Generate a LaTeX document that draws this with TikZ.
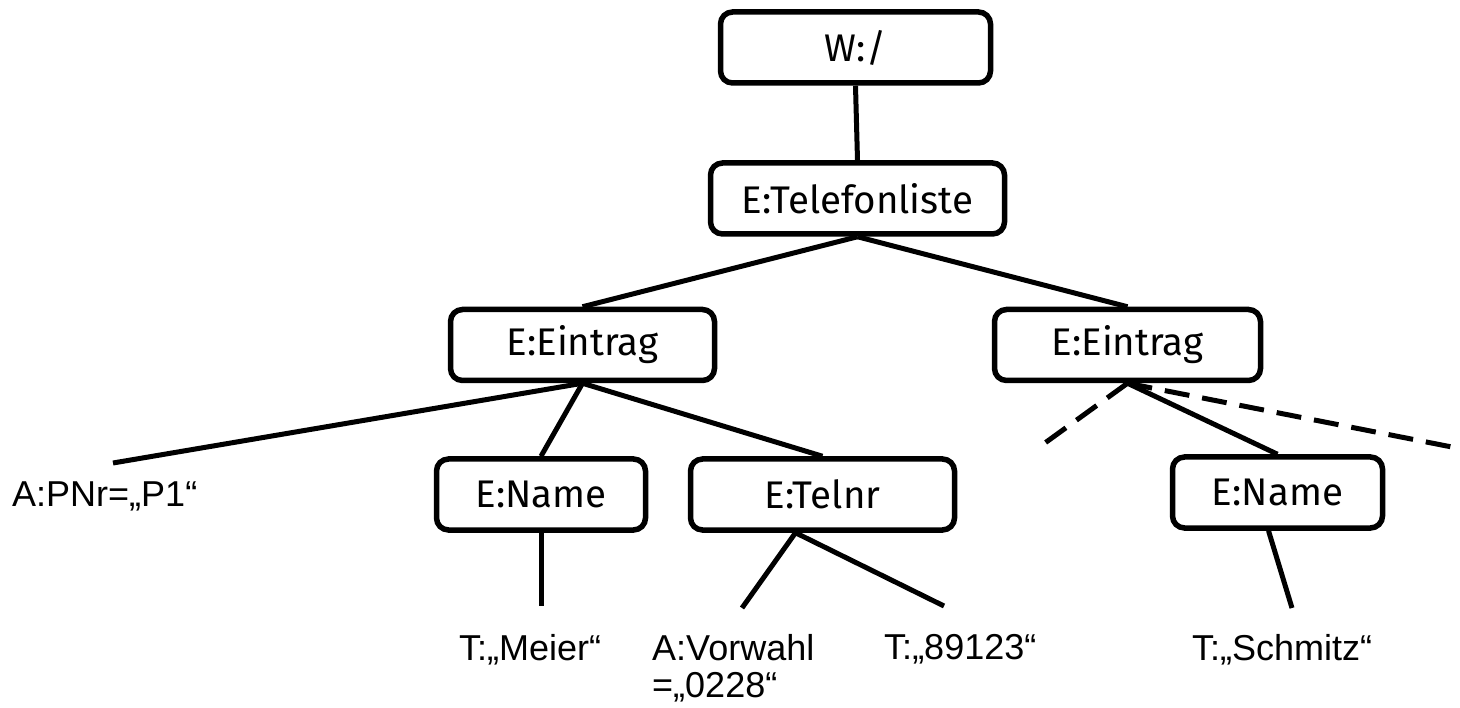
\documentclass[tikz,border=0pt]{standalone}
\usepackage{fontspec}
\setmainfont{Liberation Sans}
\newfontfamily\boxfont{Fira Sans}
\begin{document}
\begin{tikzpicture}[x=1pt,y=-1pt,
  box/.style={draw, line width=5.5pt, rounded corners=12pt, minimum height=71pt, inner sep=0pt,
    font=\boxfont\fontsize{38.5}{42}\selectfont},
  leaf/.style={inner sep=0pt, font=\fontsize{36}{37}\selectfont},
  con/.style={line width=5pt},
  dashcon/.style={line width=5pt, dash pattern=on 25pt off 13pt}]
\useasboundingbox (0,0) rectangle (1460,708);
\fill[white] (0,0) rectangle (1460,708);

% boxes
\node[box, minimum width=270pt] (w) at (855.5,47.5) {W:/};
\node[box, minimum width=294pt] (tel) at (857.5,198.5) {E:Telefonliste};
\node[box, minimum width=264pt] (einl) at (582.5,345) {E:Eintrag};
\node[box, minimum width=266pt] (einr) at (1127.5,345) {E:Eintrag};
\node[box, minimum width=209pt] (namel) at (541,494.5) {E:Name};
\node[box, minimum width=264pt] (telnr) at (822.5,494.5) {E:Telnr};
\node[box, minimum width=210pt] (namer) at (1277.5,492.5) {E:Name};

% leaf texts
\node[leaf, anchor=north west] (pnr) at (12,482) {A:PNr=„P1“};
\node[leaf, anchor=north] (meier) at (530,634) {T:„Meier“};
\node[leaf, anchor=north west, align=left] (vorwahl) at (652,634) {A:Vorwahl\\=„0228“};
\node[leaf, anchor=north west] (num) at (884,634) {T:„89123“};
\node[leaf, anchor=north] (schmitz) at (1282,634) {T:„Schmitz“};

% connector end points
\coordinate (epnr) at (113,463);
\coordinate (emeier) at (541,606);
\coordinate (tj) at ([xshift=-27pt]telnr.south);
\coordinate (evor) at (742,608);
\coordinate (enum) at (944,606);
\coordinate (nj) at ([xshift=-9pt]namer.south);
\coordinate (eschm) at (1292,608);
\coordinate (edl) at (1038,448);
\coordinate (edr) at (1462,449);

% connectors
\draw[con] (w.south) -- (tel.north);
\draw[con] (tel.south) -- (einl.north);
\draw[con] (tel.south) -- (einr.north);
\draw[con] (einl.south) -- (epnr);
\draw[con] (einl.south) -- (namel.north);
\draw[con] (einl.south) -- (telnr.north);
\draw[con] (namel.south) -- (emeier);
\draw[con] (tj) -- (evor);
\draw[con] (tj) -- (enum);
\draw[con] (einr.south) -- (namer.north);
\draw[dashcon] (einr.south) -- (edl);
\draw[dashcon] (einr.south) -- (edr);
\draw[con] (nj) -- (eschm);
\end{tikzpicture}
\end{document}
